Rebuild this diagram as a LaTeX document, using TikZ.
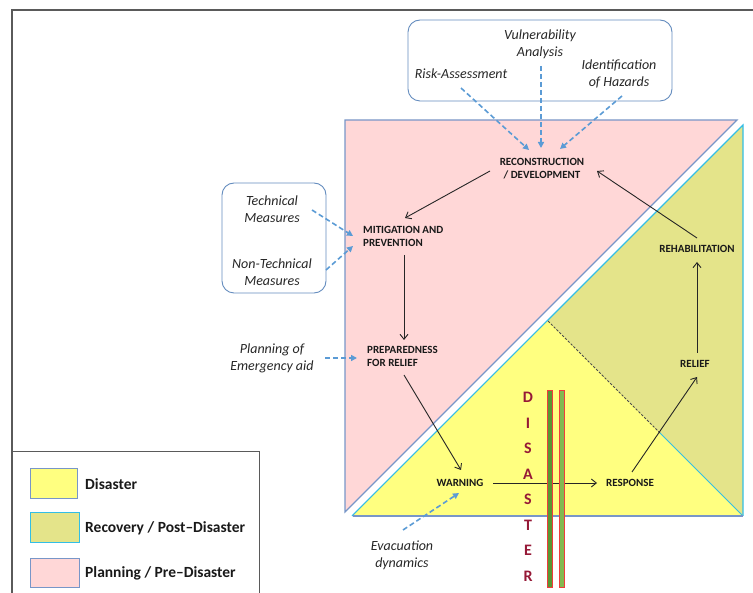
\documentclass[tikz,border=0pt]{standalone}
\usepackage{fontspec}
\setmainfont{Carlito}
\usetikzlibrary{arrows.meta,calc}
\definecolor{pinkfill}{RGB}{255,215,215}
\definecolor{yelfill}{RGB}{255,255,128}
\definecolor{grnfill}{RGB}{228,228,138}
\definecolor{triedge}{RGB}{120,150,200}
\definecolor{cyanedge}{RGB}{50,190,230}
\definecolor{dashblue}{RGB}{91,155,213}
\definecolor{boxedge}{RGB}{100,140,190}
\definecolor{framegray}{RGB}{90,90,90}
\definecolor{maroon}{RGB}{150,25,55}
\definecolor{barred}{RGB}{240,60,60}
\definecolor{bargreenA}{RGB}{90,150,50}
\definecolor{bargreenB}{RGB}{130,185,80}
\tikzset{
  lbl/.style={font=\fontsize{11}{13}\selectfont\bfseries, align=center, inner sep=0pt, text=black!90},
  lbll/.style={lbl, align=left, anchor=west},
  itl/.style={font=\fontsize{14}{17}\selectfont\itshape, align=center, inner sep=0pt, text=black!85},
  legtxt/.style={font=\fontsize{15.5}{17}\selectfont\bfseries, anchor=west, inner sep=0pt, text=black!90},
  arr/.style={draw=black!85, line width=0.9pt, -{Straight Barb[length=5pt,width=8pt]}},
  darr/.style={draw=dashblue, line width=1.6pt, dash pattern=on 5pt off 3pt, -{Triangle[length=6pt,width=6pt]}},
  rbox/.style={draw=boxedge, line width=0.9pt, rounded corners=12pt},
  swatch/.style={line width=1pt},
}
\begin{document}
\begin{tikzpicture}[x=1pt,y=-1pt]
\useasboundingbox (0,0) rectangle (753,593);
% outer frame
\draw[framegray, line width=1.8pt] (12,600) -- (12,10) -- (760,10);
% recovery triangle
\fill[grnfill] (743,125) -- (743,516) -- (352,516) -- cycle;
\draw[cyanedge, line width=1.2pt] (352,516) -- (743,125) -- (743,516);
% disaster triangle
\fill[yelfill] (353,516) -- (548,321) -- (743,516) -- cycle;
\draw[black!70, line width=0.8pt, dash pattern=on 2.5pt off 1.5pt] (548,321) -- (660,433);
\draw[cyanedge, line width=0.9pt] (660,433) -- (743,516);
\draw[triedge, line width=1.2pt] (353,516) -- (743,516);
% planning triangle
\draw[triedge, line width=1.2pt, fill=pinkfill] (345,120) -- (737,120) -- (345,512) -- cycle;
% top box
\draw[rbox] (408,20) rectangle (672,101);
\node[itl] (vuln) at (540,44.5) {Vulnerability\\Analysis};
\node[itl] (risk) at (461,74) {Risk-Assessment};
\node[itl] (ident) at (619,74) {Identification\\of Hazards};
% left box
\draw[rbox] (222,183) rectangle (326,293);
\node[itl] (tech) at (272,209) {Technical\\Measures};
\node[itl] (nontech) at (272,272) {Non-Technical\\Measures};
\node[itl] (plan) at (272,358.5) {Planning of\\Emergency aid};
\node[itl] (evac) at (402,555) {Evacuation\\dynamics};
% stage labels
\node[lbl] (recon) at (542,168.5) {RECONSTRUCTION\\/ DEVELOPMENT};
\node[lbll] (mitig) at (363,236.5) {MITIGATION AND\\PREVENTION};
\node[lbll] (prep) at (367,356.5) {PREPAREDNESS\\FOR RELIEF};
\node[lbl] (warn) at (460,483) {WARNING};
\node[lbl] (resp) at (630,483) {RESPONSE};
\node[lbl] (relief) at (695,364) {RELIEF};
\node[lbl] (rehab) at (697,249) {REHABILITATION};
% cycle arrows
\draw[arr] ($(recon)+(-52,2.5)$) -- ($(mitig.west)+(42,-18.5)$);
\draw[arr] ($(mitig.west)+(41,18.5)$) -- ($(prep.west)+(37,-16.5)$);
\draw[arr] ($(prep.west)+(37,18.5)$) -- ($(warn)+(1,-13)$);
\draw[arr] ($(warn)+(33,0)$) -- ($(resp)+(-33,0)$);
\draw[arr] ($(resp)+(2,-11)$) -- ($(relief)+(2,13)$);
\draw[arr] ($(relief)+(2,-11)$) -- ($(rehab)+(0,13)$);
\draw[arr] ($(rehab)+(0,-11)$) -- ($(recon)+(55,2.5)$);
% dashed input arrows
\draw[darr] ($(risk)+(0,14)$) -- ($(recon)+(-13,-18.5)$);
\draw[darr] ($(vuln)+(1,21.5)$) -- ($(recon)+(-1,-20.5)$);
\draw[darr] ($(ident)+(3,22)$) -- ($(recon)+(18,-19.5)$);
\draw[darr] ($(tech)+(40,1)$) -- ($(mitig.west)+(-10,-0.5)$);
\draw[darr] ($(nontech)+(54,-2)$) -- ($(mitig.west)+(-10,9.5)$);
\draw[darr] ($(plan)+(53,-0.5)$) -- ($(prep.west)+(-10,1.5)$);
\draw[darr] ($(evac)+(1,-25)$) -- ($(warn)+(-1,10)$);
% disaster bars
\draw[barred, line width=0.8pt, fill=bargreenA] (547,390) rectangle (552.5,587);
\draw[barred, line width=0.8pt, fill=bargreenB] (559,390) rectangle (564.5,587);
\node[font=\fontsize{16}{25.5}\selectfont\bfseries, text=maroon, align=center, inner sep=0pt] (dis) at (528,487) {D\\I\\S\\A\\S\\T\\E\\R};
% legend
\draw[framegray, line width=1pt] (12,452) -- (259,452) -- (259,600);
\draw[swatch, draw=triedge, fill=yelfill] (30,469) rectangle (77,499);
\node[legtxt] (lyel) at (85,484) {Disaster};
\draw[swatch, draw=cyanedge, fill=grnfill] (30,513) rectangle (79,543);
\node[legtxt] (lgrn) at (85,528) {Recovery / Post–Disaster};
\draw[swatch, draw=triedge, fill=pinkfill] (30,559) rectangle (79,587);
\node[legtxt] (lpnk) at (85,573) {Planning / Pre–Disaster};
\end{tikzpicture}
\end{document}
